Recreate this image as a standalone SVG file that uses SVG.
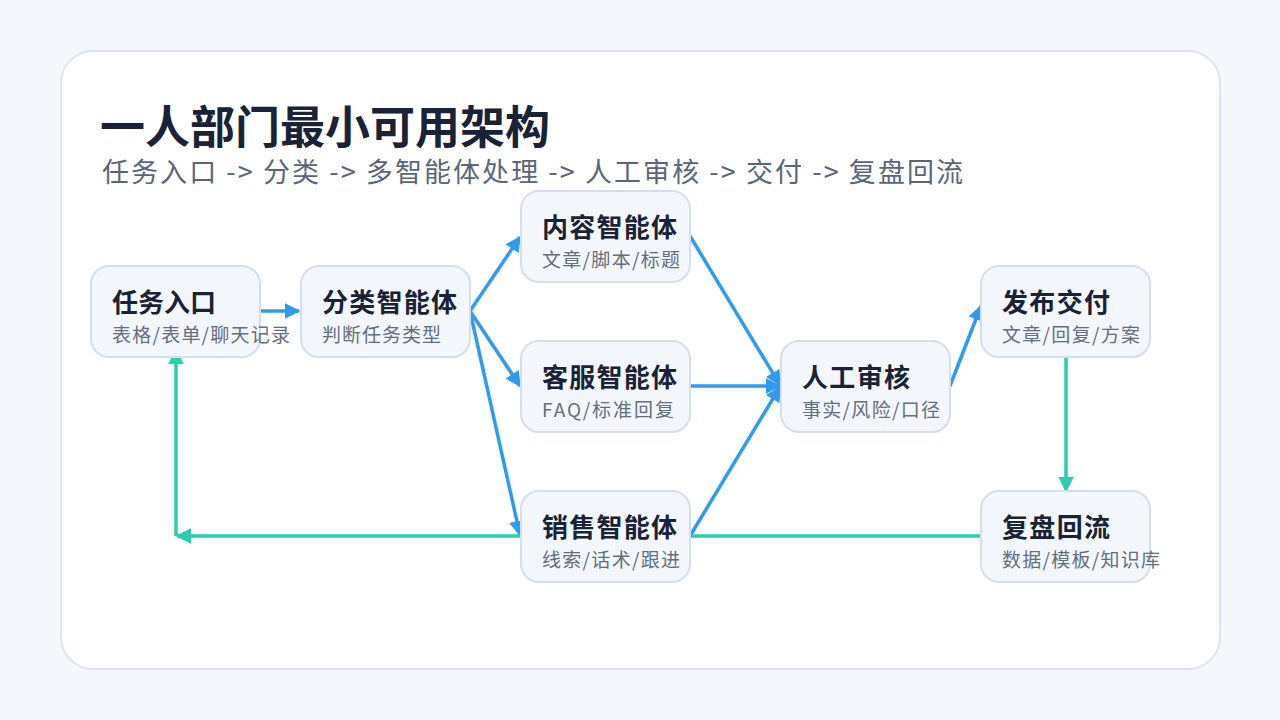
<svg xmlns="http://www.w3.org/2000/svg" width="1280" height="720" viewBox="0 0 1280 720">
<style>
.n rect{fill:#f3f7fc;stroke:#d3dfec;stroke-width:2}
.t{font-family:"Noto Sans CJK SC","Noto Sans",sans-serif;font-weight:700;font-size:26px;fill:#1a2236}
.s{font-family:"Noto Sans CJK SC","Noto Sans",sans-serif;font-size:19px;fill:#646e7e}
.b{stroke:#2f9bf0;stroke-width:3.5;fill:none;marker-end:url(#ab)}
.g{stroke:#27cfae;stroke-width:3.5;fill:none;marker-end:url(#ag)}
</style>
<defs>
<marker id="ab" viewBox="0 0 10 10" refX="9" refY="5" markerWidth="4.5" markerHeight="4.5" orient="auto" markerUnits="strokeWidth"><path d="M0,0L10,5L0,10z" fill="#2f9bf0"/></marker>
<marker id="ag" viewBox="0 0 10 10" refX="9" refY="5" markerWidth="4.5" markerHeight="4.5" orient="auto" markerUnits="strokeWidth"><path d="M0,0L10,5L0,10z" fill="#27cfae"/></marker>
</defs>
<rect width="1280" height="720" fill="#f4f8fc"/>
<rect x="61" y="51" width="1159" height="618" rx="32" fill="#fff" stroke="#dbe5ef" stroke-width="2"/>
<text x="100" y="144" font-family="Noto Sans CJK SC,sans-serif" font-weight="700" font-size="45" fill="#1a2236">一人部门最小可用架构</text>
<text x="102" y="182" font-family="Noto Sans CJK SC,sans-serif" font-size="27" fill="#5a6678" textLength="861" lengthAdjust="spacing">任务入口 -&gt; 分类 -&gt; 多智能体处理 -&gt; 人工审核 -&gt; 交付 -&gt; 复盘回流</text>
<g id="connectors">
<path class="b" d="M260,311H299"/>
<path class="b" d="M470,311L520,237"/>
<path class="b" d="M470,311L520,386"/>
<path class="b" d="M470,311L520,535"/>
<path class="b" d="M690,236L780,385"/>
<path class="b" d="M690,386H780"/>
<path class="b" d="M690,536L780,387"/>
<path class="b" d="M950,386L981,306"/>
<path class="g" d="M1066,357V491"/>
<path class="g" d="M981,536H177"/>
<path class="g" d="M176,536V350"/>
</g>
<g id="n1" class="n"><rect x="91" y="266" width="169" height="91" rx="18"/><text class="t" x="112" y="312">任务入口</text><text class="s" x="112" y="342" textLength="178">表格/表单/聊天记录</text></g>
<g id="n2" class="n"><rect x="301" y="266" width="169" height="91" rx="18"/><text class="t" x="322" y="312" textLength="135">分类智能体</text><text class="s" x="322" y="342" textLength="119">判断任务类型</text></g>
<g id="n3" class="n"><rect x="521" y="191" width="169" height="91" rx="18"/><text class="t" x="542" y="237" textLength="135">内容智能体</text><text class="s" x="542" y="267" textLength="138">文章/脚本/标题</text></g>
<g id="n4" class="n"><rect x="521" y="341" width="169" height="91" rx="18"/><text class="t" x="542" y="387" textLength="135">客服智能体</text><text class="s" x="542" y="417" textLength="132">FAQ/标准回复</text></g>
<g id="n5" class="n"><rect x="521" y="491" width="169" height="91" rx="18"/><text class="t" x="542" y="537" textLength="135">销售智能体</text><text class="s" x="542" y="567" textLength="138">线索/话术/跟进</text></g>
<g id="n6" class="n"><rect x="781" y="341" width="169" height="91" rx="18"/><text class="t" x="802" y="387" textLength="108">人工审核</text><text class="s" x="802" y="417" textLength="138">事实/风险/口径</text></g>
<g id="n7" class="n"><rect x="981" y="266" width="169" height="91" rx="18"/><text class="t" x="1002" y="312" textLength="108">发布交付</text><text class="s" x="1002" y="342" textLength="138">文章/回复/方案</text></g>
<g id="n8" class="n"><rect x="981" y="491" width="169" height="91" rx="18"/><text class="t" x="1002" y="537" textLength="108">复盘回流</text><text class="s" x="1002" y="567" textLength="158">数据/模板/知识库</text></g>
</svg>
